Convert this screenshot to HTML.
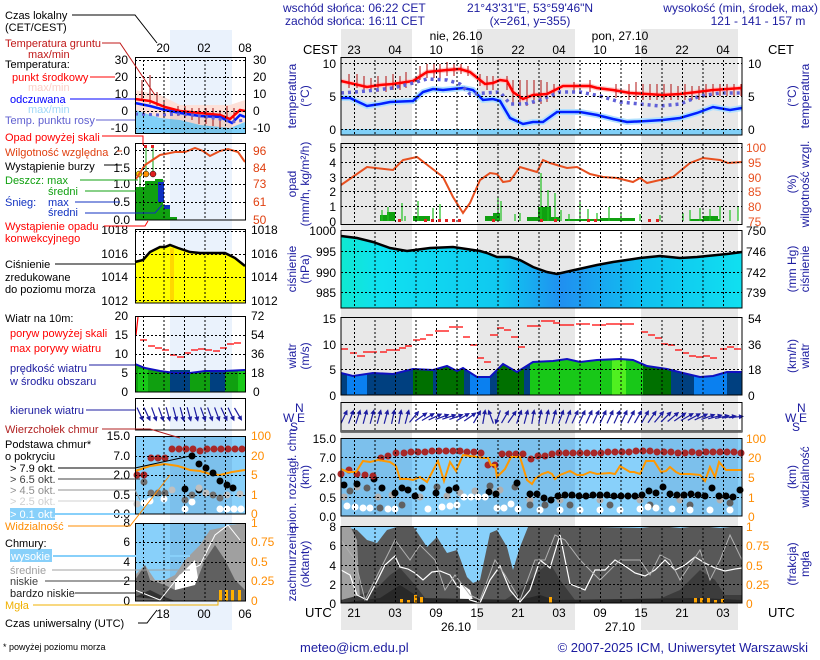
<!DOCTYPE html>
<html><head><meta charset="utf-8"><style>
html,body{margin:0;padding:0;background:#fff}
svg{display:block}
text{font-family:"Liberation Sans",sans-serif;font-size:12px}
.n{fill:#1c1ca0}
.r{text-anchor:end}
.m{text-anchor:middle}
.lg text{font-size:11px}
</style></head><body>
<svg width="820" height="660" viewBox="0 0 820 660" xmlns="http://www.w3.org/2000/svg">
<defs>
<pattern id="vg" x="341" y="0" width="20.5" height="4" patternUnits="userSpaceOnUse"><rect x="13" y="0" width="1" height="2" fill="#000"/></pattern>
<pattern id="vgm" x="135" y="0" width="20.5" height="4" patternUnits="userSpaceOnUse"><rect x="8" y="0" width="1" height="2" fill="#000"/></pattern>
<g id="ar"><line x1="0" y1="7" x2="0" y2="-5" stroke="#1c1ca0" stroke-width="1.2"/><path d="M-2.5 -3 L0 -8 L2.5 -3Z" fill="#1c1ca0"/></g>
<linearGradient id="pg" x1="0" x2="1" y1="0" y2="0"><stop offset="0" stop-color="#10e8d0"/><stop offset="0.1" stop-color="#10e0f0"/><stop offset="0.4" stop-color="#10c8f0"/><stop offset="0.55" stop-color="#2090f0"/><stop offset="0.75" stop-color="#10c0f0"/><stop offset="1" stop-color="#10e0f0"/></linearGradient>
<clipPath id="wc"><path d="M341 373 L353 376 L373 373 L393 374 L413 369 L433 370 L447 366 L457 371 L463 368 L477 377 L490 377 L503 364 L517 372 L533 362 L553 361 L567 359 L580 362 L597 360 L620 359 L633 360 L647 366 L667 369 L683 373 L700 377 L713 376 L727 372 L742 372 L742 395 L341 395Z"/></clipPath>
</defs>

<rect x="341" y="29" width="71" height="601" fill="#e8e8e8"/>
<rect x="477" y="29" width="98" height="601" fill="#e8e8e8"/>
<rect x="641" y="29" width="97" height="601" fill="#e8e8e8"/>
<rect x="170" y="30" width="62" height="600" fill="#eaf2fc"/>

<text x="283" y="12" class="n">wschód słońca: 06:22 CET</text>
<text x="285" y="25" class="n">zachód słońca: 16:11 CET</text>
<text x="530" y="12" class="n m">21°43'31"E, 53°59'46"N</text>
<text x="530" y="25" class="n m">(x=261,  y=355)</text>
<text x="818" y="12" class="n r">wysokość (min, środek, max)</text>
<text x="758" y="25" class="n m">121 - 141 - 157 m</text>
<text x="456" y="40" class="m">nie, 26.10</text>
<text x="620" y="40" class="m">pon, 27.10</text>
<text x="303" y="54" style="font-size:13px">CEST</text>
<text x="768" y="54" style="font-size:13px">CET</text>
<g class="m" style="font-size:13px">
<text x="354" y="54" class="m">23</text><text x="395" y="54" class="m">04</text><text x="436" y="54" class="m">10</text><text x="477" y="54" class="m">16</text><text x="518" y="54" class="m">22</text><text x="559" y="54" class="m">04</text><text x="600" y="54" class="m">10</text><text x="641" y="54" class="m">16</text><text x="682" y="54" class="m">22</text><text x="723" y="54" class="m">04</text>
<text x="354" y="617" class="m">21</text><text x="395" y="617" class="m">03</text><text x="436" y="617" class="m">09</text><text x="477" y="617" class="m">15</text><text x="518" y="617" class="m">21</text><text x="559" y="617" class="m">03</text><text x="600" y="617" class="m">09</text><text x="641" y="617" class="m">15</text><text x="682" y="617" class="m">21</text><text x="723" y="617" class="m">03</text>
<text x="456" y="631" class="m">26.10</text><text x="620" y="631" class="m">27.10</text>
</g>
<text x="305" y="617" style="font-size:13px">UTC</text>
<text x="768" y="617" style="font-size:13px">UTC</text>
<text x="300" y="652" class="n" style="font-size:13px">meteo@icm.edu.pl</text>
<text x="808" y="652" class="n r" style="font-size:13px">© 2007-2025 ICM, Uniwersytet Warszawski</text>
<text x="3" y="650" style="font-size:9px">* powyżej poziomu morza</text>

<!-- TEMPERATURE -->
<rect x="341" y="129" width="401" height="6" fill="#80d0f8"/>
<polyline fill="none" stroke="#ffc8c8" stroke-width="5" points="341,81 367,87 380,85 393,84 413,81 427,72 447,70 460,69 470,72 480,80 485,84 493,83 500,80 507,81 513,92 523,99 533,95 547,94 557,89 563,86 580,86 590,86 597,88 613,90 630,93 647,94 663,95 680,94 697,92 713,90 742,88"/>
<polyline fill="none" stroke="#b0e0ff" stroke-width="6" points="341,98 350,98 367,106 380,104 390,102 413,101 423,92 433,89 443,90 453,89 463,88 473,90 483,100 493,99 500,101 510,118 523,124 533,122 543,122 557,112 580,112 597,115 613,119 627,122 647,121 663,120 680,118 697,113 713,107 730,110 742,108"/>
<g stroke="#b01010" stroke-width="1">
<path d="M349 74V88M357 74V88M364 76V92M371 78V92M378 76V92M386 76V92M393 74V90M400 76V90M406 72V88M420 66V80M427 64V78M434 64V78M440 64V78M447 62V76M454 64V76M461 64V74M468 66V76M480 74V86M487 76V90M493 76V90M507 76V90M513 80V104M520 80V104M527 80V106M534 80V104M541 80V104M547 82V102M554 84V98M574 82V92M590 80V92M616 84V98M629 84V100M636 82V100M643 84V100M650 84V100M657 84V100M664 84V100M671 84V100M678 86V100M685 84V100M692 86V100M699 86V100M706 84V98M713 84V96M720 84V96M727 84V96M734 84V96M741 84V96"/>
</g>
<polyline fill="none" stroke="#ff0000" stroke-width="2.5" points="341,81 367,87 380,85 393,84 413,81 427,72 447,70 460,69 470,72 480,80 485,84 493,83 500,80 507,81 513,92 523,99 533,95 547,94 557,89 563,86 580,86 590,86 597,88 613,90 630,93 647,94 663,95 680,94 697,92 713,90 742,88"/>
<polyline fill="none" stroke="#0020ff" stroke-width="2.5" points="341,98 350,98 367,106 380,104 390,102 413,101 423,92 433,89 443,90 453,89 463,88 473,90 483,100 493,99 500,101 510,118 523,124 533,122 543,122 557,112 580,112 597,115 613,119 627,122 647,121 663,120 680,118 697,113 713,107 730,110 742,108"/>
<polyline fill="none" stroke="#6060d8" stroke-width="3.5" stroke-dasharray="3,4" points="341,93 367,91 393,88 413,83 427,79 447,80 460,84 470,94 500,92 510,104 525,104 540,100 560,92 580,92 600,96 620,102 640,104 660,106 680,104 700,96 720,93 742,93"/>
<rect x="341" y="57" width="401" height="78" fill="url(#vg)"/>
<path d="M341 63.5H742M341 96.5H742M341 129.5H742" stroke="#000" stroke-dasharray="2,2"/>
<rect x="341" y="57.5" width="401" height="77.5" fill="none" stroke="#000"/>

<!-- PRECIP -->
<g fill="#10a010">
<rect x="380" y="215" width="13" height="6"/><rect x="387" y="212" width="8" height="9"/><rect x="413" y="216" width="17" height="5"/><rect x="485" y="216" width="13" height="5"/><rect x="493" y="213" width="7" height="8"/><rect x="538" y="207" width="13" height="14"/><rect x="527" y="217" width="33" height="4"/><rect x="565" y="219" width="40" height="2"/><rect x="600" y="218" width="35" height="3"/><rect x="690" y="219" width="30" height="2"/><rect x="703" y="216" width="15" height="5"/>
</g>
<g stroke="#20c020" stroke-width="1.2"><path d="M382 221V210M388 221V207M402 221V203M405 221V216M418 221V201M433 221V208M440 221V204M498 221V197M501 221V201M515 221V214M520 221V213M541 221V173M548 221V190M555 221V193M561 221V210M569 221V214M580 221V202M588 221V209M597 221V213M609 221V207M621 221V213M640 221V214M660 221V215M683 221V213M690 221V210M700 221V208M710 221V209M720 221V206M730 221V210M738 221V207"/></g>
<g fill="#e02020"><rect x="398" y="219" width="3" height="3"/><rect x="424" y="219" width="3" height="3"/><rect x="431" y="219" width="3" height="3"/><rect x="438" y="219" width="3" height="3"/><rect x="445" y="219" width="3" height="3"/><rect x="452" y="219" width="3" height="3"/><rect x="458" y="219" width="3" height="3"/><rect x="492" y="219" width="3" height="3"/><rect x="540" y="219" width="3" height="3"/><rect x="554" y="219" width="3" height="3"/><rect x="587" y="219" width="3" height="3"/><rect x="594" y="219" width="3" height="3"/><rect x="648" y="219" width="3" height="3"/><rect x="656" y="219" width="3" height="3"/></g>
<polyline fill="none" stroke="#e85020" stroke-width="2" points="341,185 367,167 393,170 403,160 417,157 430,167 443,177 453,197 463,213 470,203 480,180 490,173 497,174 503,182 510,181 520,167 537,172 543,160 550,163 567,168 577,167 590,174 603,177 617,178 633,182 640,178 647,183 673,177 690,163 703,158 720,160 728,163 742,162"/>
<rect x="341" y="143" width="401" height="82" fill="url(#vg)"/>
<path d="M341 147.5H742M341 162.5H742M341 177.5H742M341 191.5H742M341 206.5H742" stroke="#000" stroke-dasharray="2,2"/>
<rect x="341" y="143.5" width="401" height="81" fill="none" stroke="#000"/>

<!-- PRESSURE -->
<rect x="341" y="230" width="401" height="78" fill="#fff"/>
<rect x="341" y="230" width="71" height="78" fill="#e8e8e8"/><rect x="477" y="230" width="98" height="78" fill="#e8e8e8"/><rect x="641" y="230" width="97" height="78" fill="#e8e8e8"/>
<path d="M341 236 L357 238 L373 242 L390 248 L407 251 L430 248 L453 247 L480 251 L487 253 L497 257 L510 257 L520 260 L533 267 L547 272 L557 274 L570 271 L597 265 L613 262 L640 258 L660 256 L680 258 L697 257 L727 254 L742 252 L742 308 L341 308Z" fill="url(#pg)"/>
<polyline fill="none" stroke="#000" stroke-width="2.5" points="341,236 357,238 373,242 390,248 407,251 430,248 453,247 480,251 487,253 497,257 510,257 520,260 533,267 547,272 557,274 570,271 597,265 613,262 640,258 660,256 680,258 697,257 727,254 742,252"/>
<rect x="341" y="230" width="401" height="78" fill="url(#vg)"/>
<path d="M341 251.5H742M341 272.5H742M341 292.5H742" stroke="#000" stroke-dasharray="2,2"/>
<rect x="341" y="230.5" width="401" height="77.5" fill="none" stroke="#000"/>

<!-- WIND -->
<g clip-path="url(#wc)">
<rect x="341" y="355" width="401" height="40" fill="#004080"/>
<rect x="347" y="355" width="20" height="40" fill="#0a80f0"/>
<rect x="413" y="355" width="20" height="40" fill="#007000"/>
<rect x="437" y="355" width="27" height="40" fill="#007000"/>
<rect x="470" y="355" width="20" height="40" fill="#0a80f0"/>
<rect x="497" y="355" width="27" height="40" fill="#007000"/>
<rect x="530" y="355" width="113" height="40" fill="#18c818"/>
<rect x="612" y="355" width="14" height="40" fill="#50f020"/>
<rect x="643" y="355" width="28" height="40" fill="#007000"/>
<rect x="694" y="355" width="33" height="40" fill="#0a80f0"/>
</g>
<polyline fill="none" stroke="#1010c0" stroke-width="2" points="341,373 353,376 373,373 393,374 413,369 433,370 447,366 457,371 463,368 477,377 490,377 503,364 517,372 533,362 553,361 567,359 580,362 597,360 620,359 633,360 647,366 667,369 683,373 700,377 713,376 727,372 742,372"/>
<g stroke="#ff0000" stroke-width="1.3"><path d="M341 349h7M350 353h7M357 356h8M363 352h14M380 352h7M386 350h8M393 350h7M399 348h7M405 346h7M413 340h7M420 339h6M426 335h7M435 331h14M449 327h14M463 337h7M470 345h7M477 358h7M484 362h7M490 335h8M497 328h7M504 330h7M511 337h7M518 347h7M527 326h14M541 321h14M553 323h7M560 325h14M576 324h14M592 325h14M606 324h14M620 324h14M641 332h7M648 335h7M655 338h7M661 344h7M668 345h7M675 350h7M682 353h7M689 356h7M696 357h7M703 356h7M710 358h7M720 349h7M727 347h7M734 349h7"/></g>
<rect x="341" y="317" width="401" height="78" fill="url(#vg)"/>
<path d="M341 344.5H742M341 369.5H742" stroke="#000" stroke-dasharray="2,2"/>
<rect x="341" y="317.5" width="401" height="77.5" fill="none" stroke="#000"/>

<!-- WIND DIR -->
<rect x="341" y="402" width="401" height="30" fill="url(#vg)"/>
<g>
<use href="#ar" transform="translate(344,417) rotate(25)"/><use href="#ar" transform="translate(351,417) rotate(20)"/><use href="#ar" transform="translate(358,417) rotate(18)"/><use href="#ar" transform="translate(365,417) rotate(15)"/><use href="#ar" transform="translate(372,417) rotate(15)"/><use href="#ar" transform="translate(379,417) rotate(15)"/><use href="#ar" transform="translate(386,417) rotate(15)"/><use href="#ar" transform="translate(393,417) rotate(12)"/><use href="#ar" transform="translate(400,417) rotate(10)"/><use href="#ar" transform="translate(407,417) rotate(15)"/>
<use href="#ar" transform="translate(414,417) rotate(40)"/><use href="#ar" transform="translate(421,417) rotate(55)"/><use href="#ar" transform="translate(428,417) rotate(60)"/><use href="#ar" transform="translate(435,417) rotate(65)"/><use href="#ar" transform="translate(442,417) rotate(70)"/><use href="#ar" transform="translate(449,417) rotate(72)"/><use href="#ar" transform="translate(456,417) rotate(70)"/><use href="#ar" transform="translate(463,417) rotate(60)"/><use href="#ar" transform="translate(470,417) rotate(55)"/><use href="#ar" transform="translate(477,417) rotate(30)"/><use href="#ar" transform="translate(484,417) rotate(10)"/><use href="#ar" transform="translate(491,417) rotate(-20)"/><use href="#ar" transform="translate(498,417) rotate(-160)"/><use href="#ar" transform="translate(505,417) rotate(30)"/><use href="#ar" transform="translate(512,417) rotate(35)"/>
<use href="#ar" transform="translate(519,417) rotate(20)"/><use href="#ar" transform="translate(526,417) rotate(15)"/><use href="#ar" transform="translate(533,417) rotate(10)"/><use href="#ar" transform="translate(540,417) rotate(10)"/><use href="#ar" transform="translate(547,417) rotate(12)"/><use href="#ar" transform="translate(554,417) rotate(15)"/><use href="#ar" transform="translate(561,417) rotate(20)"/><use href="#ar" transform="translate(568,417) rotate(20)"/><use href="#ar" transform="translate(575,417) rotate(25)"/><use href="#ar" transform="translate(582,417) rotate(25)"/><use href="#ar" transform="translate(589,417) rotate(25)"/><use href="#ar" transform="translate(596,417) rotate(25)"/><use href="#ar" transform="translate(603,417) rotate(25)"/><use href="#ar" transform="translate(610,417) rotate(25)"/><use href="#ar" transform="translate(617,417) rotate(25)"/><use href="#ar" transform="translate(624,417) rotate(25)"/><use href="#ar" transform="translate(631,417) rotate(28)"/><use href="#ar" transform="translate(638,417) rotate(30)"/><use href="#ar" transform="translate(645,417) rotate(30)"/><use href="#ar" transform="translate(652,417) rotate(35)"/><use href="#ar" transform="translate(659,417) rotate(40)"/><use href="#ar" transform="translate(666,417) rotate(45)"/><use href="#ar" transform="translate(673,417) rotate(50)"/><use href="#ar" transform="translate(680,417) rotate(55)"/><use href="#ar" transform="translate(687,417) rotate(60)"/><use href="#ar" transform="translate(694,417) rotate(62)"/><use href="#ar" transform="translate(701,417) rotate(65)"/><use href="#ar" transform="translate(708,417) rotate(70)"/><use href="#ar" transform="translate(715,417) rotate(75)"/><use href="#ar" transform="translate(722,417) rotate(78)"/><use href="#ar" transform="translate(729,417) rotate(82)"/><use href="#ar" transform="translate(736,417) rotate(85)"/>
</g>
<rect x="341" y="402.5" width="401" height="29.5" fill="none" stroke="#000"/>
<line x1="341" y1="431" x2="742" y2="431" stroke="#666" stroke-width="2"/>

<!-- CLOUD BASE -->
<rect x="341" y="438" width="401" height="78" fill="#88d0fa"/>
<rect x="341" y="438" width="71" height="78" fill="#7cc0ec"/><rect x="477" y="438" width="98" height="78" fill="#7cc0ec"/><rect x="641" y="438" width="97" height="78" fill="#7cc0ec"/>
<g fill="#b0b0b0"><circle cx="344" cy="497" r="3.5"/><circle cx="357" cy="487" r="3.5"/><circle cx="378" cy="497" r="3.5"/><circle cx="392" cy="495" r="3.5"/><circle cx="420" cy="497" r="3.5"/><circle cx="447" cy="496" r="3.5"/><circle cx="460" cy="493" r="3.5"/><circle cx="475" cy="491" r="3.5"/><circle cx="490" cy="490" r="3.5"/><circle cx="500" cy="490" r="3.5"/><circle cx="530" cy="500" r="3.5"/><circle cx="560" cy="500" r="3.5"/><circle cx="600" cy="500" r="3.5"/><circle cx="640" cy="500" r="3.5"/><circle cx="680" cy="500" r="3.5"/><circle cx="720" cy="500" r="3.5"/></g>
<g fill="#606060"><circle cx="350" cy="491" r="3.5"/><circle cx="367" cy="488" r="3.5"/><circle cx="380" cy="508" r="3.5"/><circle cx="402" cy="505" r="3.5"/><circle cx="437" cy="487" r="3.5"/><circle cx="490" cy="486" r="3.5"/><circle cx="515" cy="487" r="3.5"/><circle cx="530" cy="505" r="3.5"/><circle cx="545" cy="505" r="3.5"/><circle cx="570" cy="505" r="3.5"/><circle cx="610" cy="505" r="3.5"/><circle cx="650" cy="505" r="3.5"/><circle cx="690" cy="505" r="3.5"/><circle cx="730" cy="503" r="3.5"/></g>
<g fill="#000"><circle cx="344" cy="485" r="3.5"/><circle cx="357" cy="484" r="3.5"/><circle cx="374" cy="479" r="3.5"/><circle cx="382" cy="488" r="3.5"/><circle cx="395" cy="493" r="3.5"/><circle cx="402" cy="488" r="3.5"/><circle cx="408" cy="490" r="3.5"/><circle cx="415" cy="496" r="3.5"/><circle cx="422" cy="488" r="3.5"/><circle cx="436" cy="493" r="3.5"/><circle cx="449" cy="490" r="3.5"/><circle cx="456" cy="488" r="3.5"/><circle cx="489" cy="492" r="3.5"/><circle cx="496" cy="494" r="3.5"/><circle cx="517" cy="483" r="3.5"/><circle cx="530" cy="494" r="3.5"/><circle cx="537" cy="494" r="3.5"/><circle cx="544" cy="498" r="3.5"/><circle cx="551" cy="500" r="3.5"/><circle cx="558" cy="496" r="3.5"/><circle cx="565" cy="495" r="3.5"/><circle cx="572" cy="495" r="3.5"/><circle cx="579" cy="496" r="3.5"/><circle cx="586" cy="496" r="3.5"/><circle cx="593" cy="495" r="3.5"/><circle cx="600" cy="495" r="3.5"/><circle cx="607" cy="495" r="3.5"/><circle cx="614" cy="496" r="3.5"/><circle cx="621" cy="496" r="3.5"/><circle cx="628" cy="496" r="3.5"/><circle cx="635" cy="496" r="3.5"/><circle cx="642" cy="495" r="3.5"/><circle cx="649" cy="491" r="3.5"/><circle cx="656" cy="493" r="3.5"/><circle cx="663" cy="487" r="3.5"/><circle cx="670" cy="494" r="3.5"/><circle cx="677" cy="495" r="3.5"/><circle cx="684" cy="495" r="3.5"/><circle cx="691" cy="494" r="3.5"/><circle cx="698" cy="495" r="3.5"/><circle cx="705" cy="496" r="3.5"/><circle cx="712" cy="488" r="3.5"/><circle cx="719" cy="496" r="3.5"/><circle cx="726" cy="496" r="3.5"/><circle cx="733" cy="497" r="3.5"/><circle cx="740" cy="490" r="3.5"/></g>
<g fill="#fff"><circle cx="347" cy="506" r="3.5"/><circle cx="355" cy="507" r="3.5"/><circle cx="363" cy="508" r="3.5"/><circle cx="370" cy="508" r="3.5"/><circle cx="388" cy="509" r="3.5"/><circle cx="395" cy="509" r="3.5"/><circle cx="428" cy="509" r="3.5"/><circle cx="442" cy="507" r="3.5"/><circle cx="450" cy="506" r="3.5"/><circle cx="457" cy="505" r="3.5"/><circle cx="464" cy="497" r="3.5"/><circle cx="471" cy="497" r="3.5"/><circle cx="478" cy="497" r="3.5"/><circle cx="485" cy="497" r="3.5"/><circle cx="497" cy="508" r="3.5"/><circle cx="504" cy="508" r="3.5"/><circle cx="511" cy="504" r="3.5"/><circle cx="518" cy="509" r="3.5"/><circle cx="540" cy="510" r="3.5"/><circle cx="560" cy="510" r="3.5"/><circle cx="580" cy="510" r="3.5"/><circle cx="600" cy="510" r="3.5"/><circle cx="620" cy="510" r="3.5"/><circle cx="640" cy="509" r="3.5"/><circle cx="648" cy="507" r="3.5"/><circle cx="656" cy="508" r="3.5"/><circle cx="672" cy="509" r="3.5"/><circle cx="690" cy="510" r="3.5"/><circle cx="710" cy="510" r="3.5"/><circle cx="730" cy="510" r="3.5"/></g>
<g fill="#a82828"><circle cx="341" cy="474" r="3.5"/><circle cx="349" cy="470" r="3.5"/><circle cx="357" cy="474" r="3.5"/><circle cx="365" cy="475" r="3.5"/><circle cx="373" cy="476" r="3.5"/><circle cx="381" cy="458" r="3.5"/><circle cx="388" cy="456" r="3.5"/><circle cx="396" cy="453" r="3.5"/><circle cx="404" cy="453" r="3.5"/><circle cx="411" cy="452" r="3.5"/><circle cx="418" cy="452" r="3.5"/><circle cx="425" cy="452" r="3.5"/><circle cx="432" cy="451" r="3.5"/><circle cx="439" cy="451" r="3.5"/><circle cx="446" cy="451" r="3.5"/><circle cx="453" cy="451" r="3.5"/><circle cx="460" cy="451" r="3.5"/><circle cx="467" cy="452" r="3.5"/><circle cx="474" cy="452" r="3.5"/><circle cx="481" cy="453" r="3.5"/><circle cx="488" cy="465" r="3.5"/><circle cx="495" cy="465" r="3.5"/><circle cx="502" cy="454" r="3.5"/><circle cx="509" cy="454" r="3.5"/><circle cx="516" cy="454" r="3.5"/><circle cx="523" cy="454" r="3.5"/><circle cx="531" cy="459" r="3.5"/><circle cx="538" cy="456" r="3.5"/><circle cx="545" cy="456" r="3.5"/><circle cx="552" cy="454" r="3.5"/><circle cx="559" cy="453" r="3.5"/><circle cx="566" cy="453" r="3.5"/><circle cx="573" cy="453" r="3.5"/><circle cx="580" cy="453" r="3.5"/><circle cx="587" cy="453" r="3.5"/><circle cx="594" cy="453" r="3.5"/><circle cx="601" cy="453" r="3.5"/><circle cx="608" cy="452" r="3.5"/><circle cx="615" cy="452" r="3.5"/><circle cx="622" cy="452" r="3.5"/><circle cx="629" cy="452" r="3.5"/><circle cx="636" cy="451" r="3.5"/><circle cx="643" cy="451" r="3.5"/><circle cx="650" cy="451" r="3.5"/><circle cx="657" cy="452" r="3.5"/><circle cx="664" cy="452" r="3.5"/><circle cx="671" cy="452" r="3.5"/><circle cx="678" cy="453" r="3.5"/><circle cx="685" cy="453" r="3.5"/><circle cx="692" cy="452" r="3.5"/><circle cx="699" cy="453" r="3.5"/><circle cx="706" cy="452" r="3.5"/><circle cx="713" cy="452" r="3.5"/><circle cx="720" cy="452" r="3.5"/><circle cx="727" cy="452" r="3.5"/><circle cx="734" cy="452" r="3.5"/><circle cx="741" cy="453" r="3.5"/></g>
<polyline fill="none" stroke="#ff9800" stroke-width="2" points="341,469 348,472 356,472 363,461 370,462 378,460 390,462 396,466 400,479 408,479 413,480 420,477 427,482 438,461 444,481 450,462 456,471 463,455 470,456 484,458 488,458 491,465 495,465 497,477 505,469 511,457 520,457 527,480 532,484 535,479 542,474 548,472 552,474 555,479 560,475 570,471 577,475 583,475 590,472 597,474 610,473 615,474 620,466 630,472 634,472 640,474 646,461 654,461 661,472 666,471 670,467 676,472 680,474 690,474 700,475 705,481 710,467 715,477 719,462 726,470 742,470"/>
<rect x="341" y="438" width="401" height="78" fill="url(#vg)"/>
<path d="M341 457.5H742M341 477.5H742M341 497.5H742" stroke="#000" stroke-dasharray="2,2"/>
<rect x="341" y="438.5" width="401" height="77.5" fill="none" stroke="#000"/>

<!-- CLOUDS -->
<rect x="341" y="526" width="401" height="77" fill="#88d0fa"/>
<path d="M341 526 L357 530 L367 540 L377 543 L387 530 L400 526 L413 526 L427 547 L437 537 L447 553 L457 550 L467 577 L473 583 L480 580 L490 533 L497 530 L507 547 L513 570 L520 547 L528 527 L560 526 L600 527 L640 528 L660 526 L680 528 L700 526 L720 528 L742 526 L742 603 L341 603Z" fill="#585858"/>
<path d="M341 526 L350 526 L357 540 L360 600 L341 603Z" fill="#a0a0a0"/>
<path d="M460 583 L470 590 L473 600 L460 603Z" fill="#fff"/>
<path d="M341 600 L360 595 L375 590 L390 575 L400 568 L415 585 L425 598 L440 600 L460 603 L500 603 L520 590 L540 570 L550 563 L560 580 L575 600 L600 603 L650 603 L680 590 L700 570 L715 580 L725 595 L742 595 L742 603 L341 603Z" fill="#3c3c3c"/>
<path d="M341 603 L380 598 L400 585 L420 598 L520 600 L540 595 L555 600 L700 598 L742 600 L742 603Z" fill="#282828"/>
<polyline fill="none" stroke="#fff" stroke-width="1.2" points="341,570 350,575 357,595 367,600 375,585 385,565 395,556 400,567 408,569 415,573 423,580 432,572 440,571 450,575 457,586 463,590 470,600 480,603 490,580 500,566 510,590 520,602 530,590 540,560 550,568 560,535 570,584 580,588 585,590 595,570 605,570 615,560 625,566 635,573 645,576 655,570 665,560 675,570 685,565 695,557 705,563 715,568 725,571 735,569 742,568"/>
<polyline fill="none" stroke="#b0b0b0" stroke-width="1" points="341,540 355,560 365,600 380,570 395,540 410,560 420,545 435,560 445,590 455,575 470,595 480,600 495,560 505,575 520,600 535,560 545,560 555,535 565,540 580,560 600,580 620,560 640,560 650,575 660,555 670,560 680,580 700,550 710,580 720,560 730,535 742,560"/>
<g fill="#ffa500"><rect x="400" y="599" width="3" height="4"/><rect x="407" y="600" width="3" height="3"/><rect x="414" y="595" width="3" height="8"/><rect x="420" y="597" width="3" height="6"/><rect x="549" y="597" width="3" height="6"/><rect x="694" y="598" width="3" height="5"/><rect x="700" y="598" width="3" height="5"/><rect x="707" y="598" width="3" height="5"/><rect x="714" y="600" width="3" height="3"/><rect x="721" y="599" width="3" height="4"/></g>
<rect x="341" y="526" width="401" height="77" fill="url(#vg)"/>
<path d="M341 545.5H742M341 565.5H742M341 584.5H742" stroke="#000" stroke-dasharray="2,2"/>
<rect x="341" y="526.5" width="401" height="76.5" fill="none" stroke="#000"/>

<!-- main axis labels -->
<g style="font-size:13px">
<text x="336" y="68" class="r">10</text><text x="336" y="101" class="r">5</text><text x="336" y="134" class="r">0</text>
<text x="748" y="68">10</text><text x="748" y="101">5</text><text x="748" y="134">0</text>
<text x="336" y="152" class="r">5</text><text x="336" y="167" class="r">4</text><text x="336" y="182" class="r">3</text><text x="336" y="196" class="r">2</text><text x="336" y="211" class="r">1</text><text x="336" y="226" class="r">0</text>
<g fill="#e85020"><text x="746" y="152">100</text><text x="748" y="167">95</text><text x="748" y="182">90</text><text x="748" y="196">85</text><text x="748" y="211">80</text><text x="748" y="226">75</text></g>
<text x="336" y="235" class="r">1000</text><text x="336" y="256" class="r">995</text><text x="336" y="277" class="r">990</text><text x="336" y="297" class="r">985</text>
<text x="746" y="235">750</text><text x="746" y="256">746</text><text x="746" y="277">742</text><text x="746" y="297">739</text>
<text x="336" y="323" class="r">15</text><text x="336" y="349" class="r">10</text><text x="336" y="374" class="r">5</text><text x="336" y="400" class="r">0</text>
<text x="748" y="323">54</text><text x="748" y="349">36</text><text x="748" y="374">18</text><text x="748" y="400">0</text>
<text x="336" y="443" class="r">15.0</text><text x="336" y="462" class="r">7.0</text><text x="336" y="482" class="r">2.0</text><text x="336" y="502" class="r">0.5</text><text x="336" y="521" class="r">0.0</text>
<g fill="#ff8c00"><text x="746" y="443">100</text><text x="748" y="462">20</text><text x="748" y="482">5</text><text x="748" y="502">1</text><text x="748" y="521">0</text>
<text x="746" y="531">1</text><text x="746" y="550">0.75</text><text x="746" y="570">0.5</text><text x="746" y="589">0.25</text><text x="746" y="608">0</text></g>
<text x="336" y="531" class="r">8</text><text x="336" y="550" class="r">6</text><text x="336" y="570" class="r">4</text><text x="336" y="589" class="r">2</text><text x="336" y="608" class="r">0</text>
</g>
<g class="n m" style="font-size:12px">
<text transform="translate(296,96) rotate(-90)">temperatura</text><text transform="translate(309,96) rotate(-90)">(°C)</text>
<text transform="translate(796,96) rotate(-90)">(°C)</text><text transform="translate(809,96) rotate(-90)">temperatura</text>
<text transform="translate(296,184) rotate(-90)">opad</text><text transform="translate(309,184) rotate(-90)">(mm/h, kg/m²/h)</text>
<text transform="translate(796,184) rotate(-90)">(%)</text><text transform="translate(809,184) rotate(-90)">wilgotność wzgl.</text>
<text transform="translate(296,269) rotate(-90)">ciśnienie</text><text transform="translate(309,269) rotate(-90)">(hPa)</text>
<text transform="translate(796,269) rotate(-90)">(mm Hg)</text><text transform="translate(809,269) rotate(-90)">ciśnienie</text>
<text transform="translate(296,356) rotate(-90)">wiatr</text><text transform="translate(309,356) rotate(-90)">(m/s)</text>
<text transform="translate(796,356) rotate(-90)">(km/h)</text><text transform="translate(809,356) rotate(-90)">wiatr</text>
<text transform="translate(296,477) rotate(-90)">pion. rozciągł. chm.</text><text transform="translate(309,477) rotate(-90)">(km)</text>
<text transform="translate(796,477) rotate(-90)">(km)</text><text transform="translate(809,477) rotate(-90)">widzialność</text>
<text transform="translate(296,564) rotate(-90)">zachmurzenie</text><text transform="translate(309,564) rotate(-90)">(oktanty)</text>
<text transform="translate(796,564) rotate(-90)">(frakcja)</text><text transform="translate(809,564) rotate(-90)">mgła</text>
</g>
<g class="n" style="font-size:14px"><text x="295" y="412">N</text><text x="283" y="422">W</text><text x="297" y="422">E</text><text x="290" y="431">S</text>
<text x="797" y="412">N</text><text x="785" y="422">W</text><text x="799" y="422">E</text><text x="792" y="431">S</text></g>

<!-- MINI charts -->
<text x="163" y="52" class="m">20</text><text x="204" y="52" class="m">02</text><text x="245" y="52" class="m">08</text>
<path d="M135 90 L160 95 L180 105 L200 105 L230 105 L245 100 L245 133 L135 133Z" fill="#fde0d8"/>
<path d="M135 110 L160 118 L180 120 L200 125 L230 128 L245 122 L245 133 L135 133Z" fill="#80d0f8"/>
<path d="M170 112 L232 112 L232 133 L170 133Z" fill="#000" opacity="0.06"/>
<g stroke="#a01010"><path d="M142 80V100M150 75V104M157 92V106M164 100V112M171 108V116M178 106V116M185 106V118M192 108V120M199 108V124M206 108V124M213 108V126M220 110V128M227 106V122M234 108V120"/></g>
<polyline fill="none" stroke="#ff0000" stroke-width="2.5" points="135,99 150,101 165,107 180,111 200,113 220,115 230,119 240,110 245,111"/>
<polyline fill="none" stroke="#0020ff" stroke-width="2.5" points="135,103 150,106 165,110 180,113 200,116 220,117 232,123 240,115 245,117"/>
<polyline fill="none" stroke="#6060d8" stroke-width="3" stroke-dasharray="3,4" points="135,114 160,115 180,114 200,116 220,119 232,122 245,120"/>
<rect x="135" y="57" width="110" height="76" fill="url(#vgm)"/>
<path d="M135 60.5H245M135 77.5H245M135 94.5H245M135 111.5H245M135 128.5H245" stroke="#000" stroke-dasharray="2,2"/>
<rect x="135.5" y="57.5" width="110" height="76" fill="none" stroke="#000"/>
<rect x="135" y="187" width="10" height="33" fill="#10a010"/><rect x="145" y="181" width="10" height="39" fill="#10a010"/><rect x="155" y="179" width="8" height="41" fill="#10a010"/><rect x="158" y="182" width="6" height="20" fill="#1030c0"/><rect x="163" y="205" width="7" height="15" fill="#10a010"/><rect x="164" y="205" width="6" height="4" fill="#1030c0"/><rect x="170" y="217" width="7" height="3" fill="#10a010"/>
<path d="M140 174V220M146 147V176M153 147V175" stroke="#10a010"/>
<circle cx="139" cy="174" r="3" fill="#ffd000" stroke="#000" stroke-width=".5"/><circle cx="146" cy="174" r="3" fill="#ff9000" stroke="#000" stroke-width=".5"/><circle cx="153" cy="174" r="3" fill="#e02020" stroke="#000" stroke-width=".5"/>
<rect x="144" y="145" width="3" height="3" fill="#e02020"/><rect x="151" y="145" width="3" height="3" fill="#e02020"/>
<polyline fill="none" stroke="#e85020" stroke-width="2" points="136,179 145,165 160,155 175,152 185,152 195,148 203,151 210,156 220,151 228,149 238,152 245,162"/>
<rect x="135" y="143" width="110" height="77" fill="url(#vgm)"/>
<path d="M135 150.5H245M135 168.5H245M135 184.5H245M135 202.5H245" stroke="#000" stroke-dasharray="2,2"/>
<rect x="135.5" y="143.5" width="110" height="76.5" fill="none" stroke="#000"/>
<path d="M135 262 L143 260 L150 252 L160 247 L165 247 L170 245 L178 248 L190 252 L200 253 L225 253 L235 258 L245 266 L245 303 L135 303Z" fill="#ffff00"/>
<rect x="170" y="248" width="4" height="55" fill="#ffd800"/>
<polyline fill="none" stroke="#000" stroke-width="2.5" points="135,262 143,260 150,252 160,247 165,247 170,245 178,248 190,252 200,253 225,253 235,258 245,266"/>
<rect x="135" y="229" width="110" height="74" fill="url(#vgm)"/>
<path d="M135 231.5H245M135 254.5H245M135 277.5H245M135 300.5H245" stroke="#000" stroke-dasharray="2,2"/>
<rect x="135.5" y="229.5" width="110" height="73.5" fill="none" stroke="#000"/>
<path d="M135 364 L145 368 L160 371 L175 373 L190 373 L205 371 L225 371 L245 370 L245 392 L135 392Z" fill="#10a010"/>
<rect x="138" y="369" width="10" height="23" fill="#18c818"/><rect x="170" y="370" width="20" height="22" fill="#004080"/><rect x="210" y="370" width="15" height="22" fill="#004080"/><rect x="238" y="370" width="7" height="22" fill="#18c818"/>
<polyline fill="none" stroke="#1010c0" stroke-width="2" points="135,364 145,368 160,371 175,373 190,373 205,371 225,371 245,370"/>
<g stroke="#ff0000" stroke-width="1.2"><path d="M136 335L138 317M140 340h7M148 346h7M155 348h7M162 350h7M170 355h7M177 357h7M184 353h7M191 350h7M198 349h7M205 350h7M213 351h7M220 348h7M227 344h7M234 343h7"/></g>
<rect x="135" y="316" width="110" height="76" fill="url(#vgm)"/>
<path d="M135 335.5H245M135 354.5H245M135 373.5H245" stroke="#000" stroke-dasharray="2,2"/>
<rect x="135.5" y="316.5" width="110" height="75.5" fill="none" stroke="#000"/>
<rect x="135" y="398" width="110" height="32" fill="url(#vgm)"/>
<g><use href="#ar" transform="translate(140,414) rotate(155)"/><use href="#ar" transform="translate(147,414) rotate(155)"/><use href="#ar" transform="translate(154,414) rotate(160)"/><use href="#ar" transform="translate(161,414) rotate(160)"/><use href="#ar" transform="translate(168,414) rotate(165)"/><use href="#ar" transform="translate(175,414) rotate(165)"/><use href="#ar" transform="translate(182,414) rotate(165)"/><use href="#ar" transform="translate(189,414) rotate(165)"/><use href="#ar" transform="translate(196,414) rotate(165)"/><use href="#ar" transform="translate(203,414) rotate(160)"/><use href="#ar" transform="translate(210,414) rotate(160)"/><use href="#ar" transform="translate(217,414) rotate(160)"/><use href="#ar" transform="translate(224,414) rotate(155)"/><use href="#ar" transform="translate(231,414) rotate(155)"/><use href="#ar" transform="translate(238,414) rotate(150)"/></g>
<rect x="135.5" y="398.5" width="110" height="31.5" fill="none" stroke="#000"/>
<rect x="135" y="436" width="110" height="78" fill="#88d0fa"/><rect x="170" y="436" width="62" height="78" fill="#7cc0ec"/>
<polyline fill="none" stroke="#ff9800" stroke-width="2" points="135,471 150,466 165,464 178,466 190,470 200,471 210,474 220,475 232,472 245,470"/>
<g fill="#a82828"><circle cx="137" cy="475" r="3.5"/><circle cx="144" cy="475" r="3.5"/><circle cx="151" cy="458" r="3.5"/><circle cx="158" cy="458" r="3.5"/><circle cx="165" cy="458" r="3.5"/><circle cx="172" cy="449" r="3.5"/><circle cx="179" cy="449" r="3.5"/><circle cx="186" cy="449" r="3.5"/><circle cx="193" cy="449" r="3.5"/><circle cx="200" cy="451" r="3.5"/><circle cx="207" cy="449" r="3.5"/><circle cx="214" cy="449" r="3.5"/><circle cx="221" cy="449" r="3.5"/><circle cx="228" cy="449" r="3.5"/><circle cx="235" cy="449" r="3.5"/><circle cx="242" cy="449" r="3.5"/></g>
<g fill="#000"><circle cx="192" cy="456" r="3.5"/><circle cx="199" cy="464" r="3.5"/><circle cx="206" cy="468" r="3.5"/><circle cx="213" cy="473" r="3.5"/><circle cx="220" cy="481" r="3.5"/><circle cx="227" cy="485" r="3.5"/><circle cx="233" cy="488" r="3.5"/><circle cx="185" cy="489" r="3.5"/><circle cx="199" cy="490" r="3.5"/></g>
<g fill="#707070"><circle cx="144" cy="482" r="3.5"/><circle cx="151" cy="493" r="3.5"/><circle cx="158" cy="493" r="3.5"/><circle cx="165" cy="493" r="3.5"/><circle cx="185" cy="500" r="3.5"/><circle cx="192" cy="495" r="3.5"/><circle cx="213" cy="495" r="3.5"/><circle cx="220" cy="498" r="3.5"/></g>
<g fill="#c0c0c0"><circle cx="137" cy="504" r="3.5"/><circle cx="172" cy="490" r="3.5"/><circle cx="199" cy="488" r="3.5"/><circle cx="206" cy="493" r="3.5"/><circle cx="227" cy="495" r="3.5"/><circle cx="240" cy="494" r="3.5"/></g>
<g fill="#fff"><circle cx="144" cy="503" r="3.5"/><circle cx="150" cy="501" r="3.5"/><circle cx="164" cy="499" r="3.5"/><circle cx="185" cy="509" r="3.5"/><circle cx="192" cy="502" r="3.5"/><circle cx="220" cy="509" r="3.5"/><circle cx="227" cy="509" r="3.5"/><circle cx="234" cy="509" r="3.5"/><circle cx="241" cy="509" r="3.5"/></g>
<rect x="135" y="436" width="110" height="78" fill="url(#vgm)"/>
<path d="M135 456.5H245M135 475.5H245M135 495.5H245" stroke="#000" stroke-dasharray="2,2"/>
<rect x="135.5" y="436.5" width="110" height="77.5" fill="none" stroke="#000"/>
<rect x="135" y="523" width="110" height="78" fill="#88d0fa"/><rect x="170" y="523" width="62" height="78" fill="#7cc0ec"/>
<path d="M135 575 L145 565 L155 580 L165 580 L175 575 L185 560 L195 550 L200 545 L210 530 L220 528 L230 525 L245 523 L245 601 L135 601Z" fill="#a0a0a0"/>
<path d="M175 580 L185 570 L195 560 L200 590 L175 601Z" fill="#fff"/>
<path d="M135 580 L145 565 L150 580 L165 585 L175 590 L195 585 L205 560 L215 545 L225 560 L235 580 L245 590 L245 601 L135 601Z" fill="#606060"/>
<path d="M135 597 L150 590 L160 595 L175 601Z" fill="#333"/>
<polyline fill="none" stroke="#fff" stroke-width="1" points="135,590 160,600 180,575 200,565 215,535 228,525 240,540"/>
<g fill="#ffb000"><rect x="219" y="590" width="3" height="11"/><rect x="225" y="590" width="3" height="11"/><rect x="231" y="590" width="3" height="11"/><rect x="238" y="590" width="3" height="11"/></g>
<rect x="135" y="523" width="110" height="78" fill="url(#vgm)"/>
<path d="M135 542.5H245M135 562.5H245M135 581.5H245" stroke="#000" stroke-dasharray="2,2"/>
<rect x="135.5" y="523.5" width="110" height="77.5" fill="none" stroke="#000"/>
<text x="163" y="618" class="m">18</text><text x="204" y="618" class="m">00</text><text x="245" y="618" class="m">06</text>

<g>
<text x="128" y="64" class="r">30</text><text x="128" y="81" class="r">20</text><text x="128" y="98" class="r">10</text><text x="128" y="115" class="r">0</text><text x="128" y="132" class="r">-10</text>
<text x="253" y="64">30</text><text x="253" y="81">20</text><text x="253" y="98">10</text><text x="253" y="115">0</text><text x="253" y="132">-10</text>
<text x="130" y="155" class="r">2.0</text><text x="130" y="172" class="r">1.5</text><text x="130" y="188" class="r">1.0</text><text x="130" y="206" class="r">0.5</text><text x="130" y="224" class="r">0.0</text>
<g fill="#e04010"><text x="253" y="155">96</text><text x="253" y="172">84</text><text x="253" y="188">73</text><text x="253" y="206">61</text><text x="253" y="224">50</text></g>
<text x="128" y="234" class="r">1018</text><text x="128" y="258" class="r">1016</text><text x="128" y="281" class="r">1014</text><text x="128" y="305" class="r">1012</text>
<text x="251" y="234">1018</text><text x="251" y="258">1016</text><text x="251" y="281">1014</text><text x="251" y="305">1012</text>
<text x="128" y="320" class="r">20</text><text x="128" y="339" class="r">15</text><text x="128" y="358" class="r">10</text><text x="128" y="377" class="r">5</text><text x="128" y="396" class="r">0</text>
<text x="251" y="320">72</text><text x="251" y="339">54</text><text x="251" y="358">36</text><text x="251" y="377">18</text><text x="253" y="396">0</text>
<text x="130" y="440" class="r">15.0</text><text x="130" y="460" class="r">7.0</text><text x="130" y="479" class="r">2.0</text><text x="130" y="499" class="r">0.5</text><text x="130" y="518" class="r">0.0</text>
<g fill="#ff8c00"><text x="251" y="440">100</text><text x="251" y="460">20</text><text x="251" y="479">5</text><text x="251" y="499">1</text><text x="251" y="518">0</text>
<text x="251" y="527">1</text><text x="251" y="546">0.75</text><text x="251" y="566">0.5</text><text x="251" y="585">0.25</text><text x="251" y="605">0</text></g>
<text x="130" y="527" class="r">8</text><text x="130" y="546" class="r">6</text><text x="130" y="566" class="r">4</text><text x="130" y="585" class="r">2</text><text x="130" y="605" class="r">0</text>
</g>

<!-- left legend -->
<rect x="10" y="508" width="45" height="12" fill="#88d0fa"/>
<rect x="10" y="549" width="42" height="13" fill="#88d0fa"/>
<g class="lg">
<text x="5" y="19">Czas lokalny</text><text x="5" y="31">(CET/CEST)</text>
<text x="5" y="47" fill="#c01818">Temperatura gruntu</text><text x="28" y="58" fill="#c01818">max/min</text>
<text x="5" y="68">Temperatura:</text>
<text x="12" y="81" fill="#ff0000">punkt środkowy</text>
<text x="28" y="91" fill="#fcd0c8">max/min</text>
<text x="10" y="103" fill="#0000ff">odczuwana</text>
<text x="28" y="113" fill="#a0d8f8">max/min</text>
<text x="5" y="124" fill="#6060d0">Temp. punktu rosy</text>
<text x="5" y="141" fill="#ff0000">Opad powyżej skali</text>
<text x="5" y="156" fill="#e04010">Wilgotność względna</text>
<text x="5" y="170">Wystąpienie burzy</text>
<text x="5" y="184" fill="#10a010">Deszcz: max</text><text x="48" y="195" fill="#10a010">średni</text>
<text x="5" y="206" fill="#1030c0">Śnieg:</text><text x="48" y="206" fill="#1030c0">max</text><text x="48" y="216" fill="#1030c0">średni</text>
<text x="5" y="230" fill="#ff0000">Wystąpienie opadu</text><text x="5" y="242" fill="#ff0000">konwekcyjnego</text>
<text x="5" y="268">Ciśnienie</text><text x="5" y="281">zredukowane</text><text x="5" y="293">do poziomu morza</text>
<text x="5" y="322">Wiatr na 10m:</text>
<text x="10" y="337" fill="#ff0000">poryw powyżej skali</text><text x="10" y="352" fill="#ff0000">max porywy wiatru</text>
<text x="10" y="372" fill="#1c1ca0">prędkość wiatru</text><text x="10" y="385" fill="#1c1ca0">w środku obszaru</text>
<text x="10" y="414" fill="#1c1ca0">kierunek wiatru</text>
<text x="5" y="433" fill="#b02020">Wierzchołek chmur</text>
<text x="5" y="448">Podstawa chmur*</text><text x="5" y="460">o pokryciu</text>
<text x="10" y="472">&gt; 7.9 okt.</text>
<text x="10" y="483" fill="#404040">&gt; 6.5 okt.</text>
<text x="10" y="494" fill="#909090">&gt; 4.5 okt.</text>
<text x="10" y="505" fill="#d0d0d0">&gt; 2.5 okt.</text>
<text x="10" y="518" fill="#fff">&gt; 0.1 okt.</text>
<text x="5" y="530" fill="#ff8c00">Widzialność</text>
<text x="5" y="547">Chmury:</text>
<text x="11" y="560" fill="#fff">wysokie</text>
<text x="10" y="574" fill="#a0a0a0">średnie</text>
<text x="10" y="585" fill="#404040">niskie</text>
<text x="10" y="597" fill="#202020">bardzo niskie</text>
<text x="5" y="609" fill="#f0b000">Mgła</text>
<text x="5" y="627">Czas uniwersalny (UTC)</text>
</g>
<g fill="none" stroke-width="1">
<path d="M72 15H135L157 43" stroke="#000"/>
<path d="M102 43H120L155 95" stroke="#c01818"/>
<path d="M90 77H115" stroke="#ff0000"/>
<path d="M70 99H135" stroke="#0000ff"/>
<path d="M96 120H135" stroke="#6060d0"/>
<path d="M102 136H143V145" stroke="#ff0000"/>
<path d="M117 151H122" stroke="#e04010"/>
<path d="M104 165H122" stroke="#000"/>
<path d="M80 180H138" stroke="#10a010"/><path d="M85 191H148" stroke="#10a010"/>
<path d="M75 202H120" stroke="#1030c0"/><path d="M85 213H155L162 205" stroke="#1030c0"/>
<path d="M104 226H145L148 221" stroke="#ff0000"/>
<path d="M55 264H135" stroke="#000"/>
<path d="M89 365H135" stroke="#1c1ca0"/>
<path d="M86 410H135" stroke="#1c1ca0"/>
<path d="M102 429H150L180 438" stroke="#b02020"/>
<path d="M58 468H135L190 456" stroke="#000"/>
<path d="M58 479H140" stroke="#404040"/>
<path d="M58 490H135L140 500" stroke="#909090"/>
<path d="M58 501H135" stroke="#d0d0d0"/>
<path d="M55 514H135" stroke="#88d0fa" stroke-width="2"/>
<path d="M68 526H130L170 475" stroke="#ff8c00"/>
<path d="M53 556H190" stroke="#88d0fa" stroke-width="2"/>
<path d="M52 570H190" stroke="#a0a0a0"/>
<path d="M45 581H135" stroke="#404040"/>
<path d="M75 593H135" stroke="#202020"/>
<path d="M33 605H218V600" stroke="#f0b000"/>
<path d="M138 623H147L157 610" stroke="#000"/>
</g>
</svg>
</body></html>
